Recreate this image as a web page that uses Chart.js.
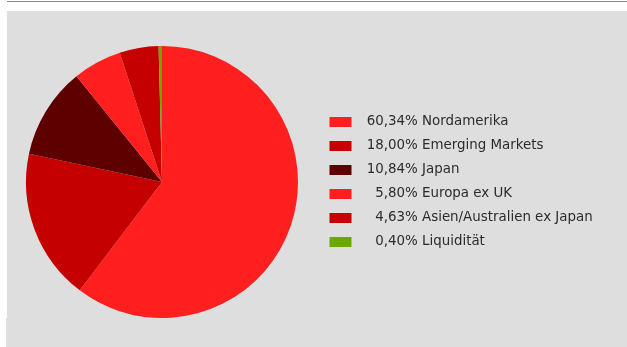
<!DOCTYPE html>
<html>
<head>
<meta charset="utf-8">
<script src="https://cdn.jsdelivr.net/npm/chart.js@4.4.1/dist/chart.umd.min.js"></script>
<style>
  html, body { margin: 0; padding: 0; background: #ffffff; }
  #wrap { position: relative; width: 627px; height: 347px; overflow: hidden; }
  .rule { position: absolute; left: 7px; top: 1px; width: 620px; height: 1px; background: #8a8a8a; }
  .panel { position: absolute; left: 7px; top: 11px; width: 620px; height: 307px; background: #dedede; }
  .panel2 { position: absolute; left: 6px; top: 318px; width: 621px; height: 29px; background: #dedede; }
  canvas { position: absolute; left: 0; top: 0; }
</style>
</head>
<body>
<div id="wrap">
  <div class="rule"></div>
  <div class="panel"></div>
  <div class="panel2"></div>
  <canvas id="chart" width="627" height="347"></canvas>
</div>
<script>
// Regional allocation (percent)
const categories = ['Nordamerika', 'Emerging Markets', 'Japan', 'Europa ex UK', 'Asien/Australien ex Japan', 'Liquidität'];
const shares = [60.34, 18.00, 10.84, 5.80, 4.63, 0.40];
const sliceColors = ['#ff1f1f', '#c40000', '#5e0000', '#ff1f1f', '#c40000', '#6ba900'];

// "60,34% Nordamerika" — percentages right-aligned with leading spaces
const legendLabels = categories.map((name, i) => {
  const num = shares[i].toFixed(2).replace('.', ',');
  const pad = num.length < 5 ? '    ' : '  ';
  return pad + num + '% ' + name;
});

const FONT = '"DejaVu Sans", Verdana, sans-serif';
const FONT_SIZE = 13.4;
const BOX_W = 22, BOX_H = 10, ITEM_PAD = 24 - FONT_SIZE;

// Work out right padding so the legend column starts where wanted
const mctx = document.createElement('canvas').getContext('2d');
mctx.font = FONT_SIZE + 'px ' + FONT;
const maxText = Math.max(...legendLabels.map(t => mctx.measureText(t).width));
const colWidth = BOX_W + FONT_SIZE / 2 + maxText;
const legendWidth = ITEM_PAD + colWidth + 10;
const legendLeft = 329.5 - ITEM_PAD;
const padLeft = 2 * 162 - legendLeft;
const padRight = 627 - legendLeft - legendWidth;

new Chart(document.getElementById('chart'), {
  type: 'pie',
  data: {
    labels: legendLabels,
    datasets: [{
      data: shares,
      backgroundColor: sliceColors,
      borderWidth: 0,
      hoverOffset: 0,
      offset: 0
    }]
  },
  options: {
    responsive: false,
    animation: false,
    radius: 136,
    layout: { padding: { left: padLeft, right: padRight, top: 46, bottom: 29 } },
    plugins: {
      tooltip: { enabled: false },
      legend: {
        position: 'right',
        align: 'center',
        labels: {
          boxWidth: BOX_W,
          boxHeight: BOX_H,
          padding: ITEM_PAD,
          color: '#2b2b2b',
          font: { family: FONT, size: FONT_SIZE }
        }
      }
    }
  }
});
</script>
</body>
</html>
